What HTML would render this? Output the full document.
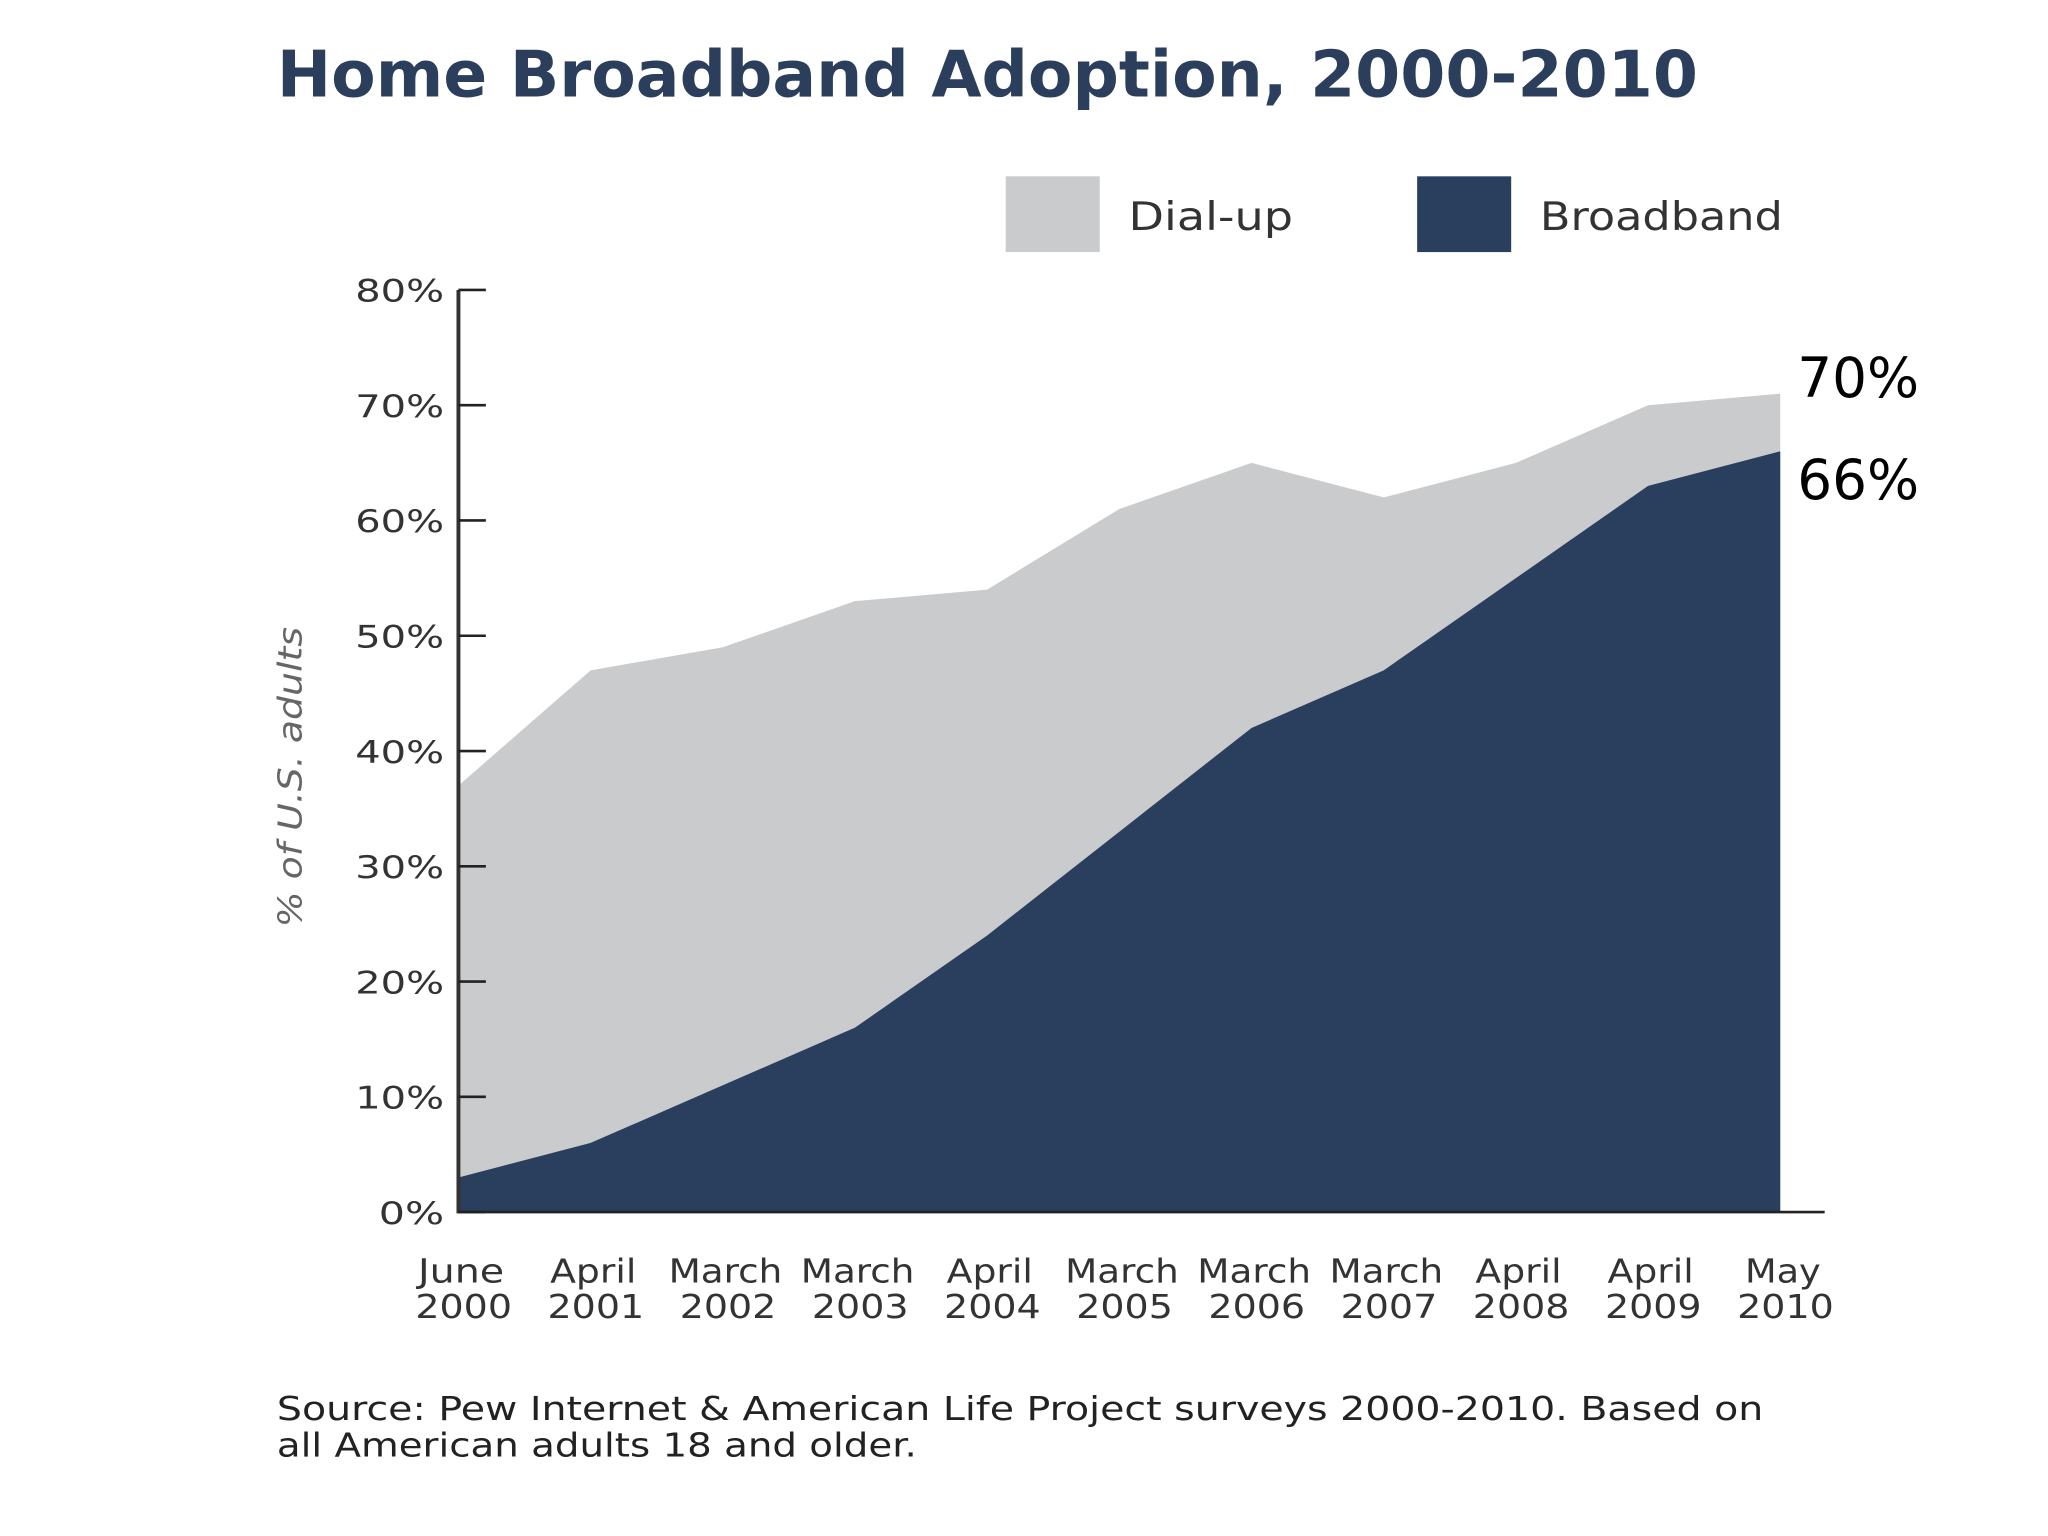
<!DOCTYPE html>
<html><head><meta charset="utf-8"><style>
html,body{margin:0;padding:0;background:#fff;}
svg{display:block;}
text{font-family:"DejaVu Sans","Liberation Sans",sans-serif;}
</style></head><body>
<svg width="2048" height="1536" viewBox="0 0 1568 1176">
<text x="212" y="74" font-size="49" font-weight="bold" fill="#2b3f5c" textLength="1088" lengthAdjust="spacingAndGlyphs">Home Broadband Adoption, 2000-2010</text>
<rect x="770" y="135" width="72" height="58" fill="#c9cbcd"/>
<text x="864" y="176" font-size="30" fill="#333" textLength="126" lengthAdjust="spacingAndGlyphs">Dial-up</text>
<rect x="1085" y="135" width="72" height="58" fill="#2a3e5e"/>
<text x="1179" y="176" font-size="30" fill="#333" textLength="186" lengthAdjust="spacingAndGlyphs">Broadband</text>
<g id="plot"></g>
<text transform="translate(231,595) rotate(-90)" text-anchor="middle" font-size="25" font-style="italic" fill="#666" textLength="230" lengthAdjust="spacingAndGlyphs">% of U.S. adults</text>
<text x="1376" y="304" font-size="42" fill="#000" font-family="Liberation Sans">70%</text>
<text x="1376" y="382" font-size="42" fill="#000" font-family="Liberation Sans">66%</text>
<text x="212" y="1087" font-size="25" fill="#222" textLength="1138" lengthAdjust="spacingAndGlyphs">Source: Pew Internet &amp; American Life Project surveys 2000-2010. Based on</text>
<text x="212" y="1115" font-size="25" fill="#222" textLength="490" lengthAdjust="spacingAndGlyphs">all American adults 18 and older.</text>
</svg>
<script>
const months = ["June","April","March","March","April","March","March","March","April","April","May"];
const years = ["2000","2001","2002","2003","2004","2005","2006","2007","2008","2009","2010"];
const totalValues = [37,47,49,53,54,61,65,62,65,70,71];
const broadbandValues = [3,6,11,16,24,33,42,47,55,63,66];
const yTicks = [0,10,20,30,40,50,60,70,80];

const NS="http://www.w3.org/2000/svg";
const g=document.getElementById('plot');
const x0=351,x1=1363,yBase=928,yTop=222;
const xs=i=>x0+(x1-x0)*i/(months.length-1);
const ys=v=>yBase-(yBase-yTop)*v/80;
const monthW={June:66,April:66,March:87,May:58};
function mk(t,a){const e=document.createElementNS(NS,t);for(const k in a)e.setAttribute(k,a[k]);g.appendChild(e);return e;}
function area(vals){let d=`M${xs(0)},${yBase}`;vals.forEach((v,i)=>d+=` L${xs(i)},${ys(v)}`);d+=` L${xs(vals.length-1)},${yBase} Z`;return d;}
const a1=mk('path',{d:area(totalValues),fill:'#c9cbcd'});


const a2=mk('path',{d:area(broadbandValues),fill:'#2a3e5e'});


const ax=mk('line',{x1:x0,y1:yTop,x2:x0,y2:yBase+1,stroke:'#333','stroke-width':3});


const bx=mk('line',{x1:x0,y1:yBase,x2:1397,y2:yBase,stroke:'#222','stroke-width':2});


yTicks.forEach(v=>{
  const t=mk('line',{x1:x0,y1:ys(v),x2:372,y2:ys(v),stroke:'#222','stroke-width':2});
  
  
  const w=v===0?50:68;
  const l=mk('text',{x:340-w,y:ys(v)+9,'font-size':24,fill:'#333',textLength:w,lengthAdjust:'spacingAndGlyphs'});
  l.textContent=v+'%';
  
  
});
months.forEach((m,i)=>{
  const mw=monthW[m]||70;
  const t1=mk('text',{x:xs(i)+2-mw/2,y:982,'font-size':25,fill:'#333',textLength:mw,lengthAdjust:'spacingAndGlyphs'});
  t1.textContent=m;
  
  
  const t2=mk('text',{x:xs(i)+4-37,y:1009,'font-size':25,fill:'#333',textLength:74,lengthAdjust:'spacingAndGlyphs'});
  t2.textContent=years[i];
  
  
});
</script>
</body></html>
